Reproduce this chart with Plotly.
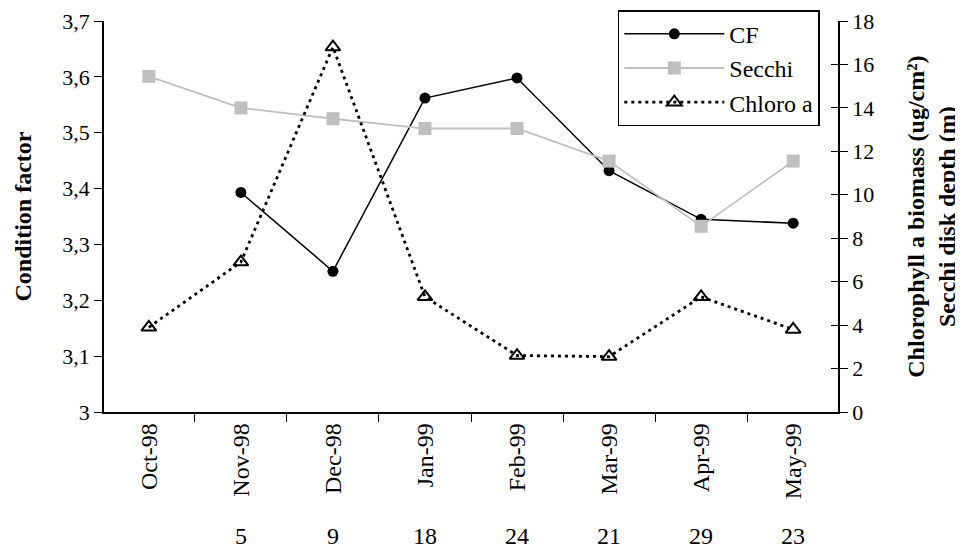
import plotly.graph_objects as go

months = ["Oct-98", "Nov-98", "Dec-98", "Jan-99", "Feb-99", "Mar-99", "Apr-99", "May-99"]
cf = [None, 3.393, 3.252, 3.562, 3.598, 3.432, 3.345, 3.338]
secchi = [15.45, 14.0, 13.5, 13.05, 13.05, 11.55, 8.55, 11.55]
chloro = [3.9, 6.9, 16.8, 5.3, 2.6, 2.55, 5.3, 3.8]
n_labels = ["", "5", "9", "18", "24", "21", "29", "23"]
cf_ticks = [3, 3.1, 3.2, 3.3, 3.4, 3.5, 3.6, 3.7]
cf_ticktext = ["3", "3,1", "3,2", "3,3", "3,4", "3,5", "3,6", "3,7"]

ff = "Liberation Serif, Times New Roman, serif"

fig = go.Figure()
fig.add_trace(go.Scatter(
    x=months, y=cf, name="CF", mode="lines+markers",
    line=dict(color="black", width=1.5),
    marker=dict(symbol="circle", size=11, color="black"),
))
fig.add_trace(go.Scatter(
    x=months, y=secchi, name="Secchi", mode="lines+markers", yaxis="y2",
    line=dict(color="#c0c0c0", width=1.8),
    marker=dict(symbol="square", size=13, color="#c0c0c0"),
))
fig.add_trace(go.Scatter(
    x=months, y=chloro, name="Chloro a", mode="lines+markers", yaxis="y2",
    line=dict(color="black", width=2.8, dash="3px,4px"),
    marker=dict(symbol="triangle-up-open", size=13, color="black", line=dict(width=2)),
))
# invisible helper trace to show inner ticks on the right axis
fig.add_trace(go.Scatter(x=[months[0]], y=[None], yaxis="y3", showlegend=False,
                         hoverinfo="skip"))

for m, t in zip(months, n_labels):
    if t:
        fig.add_annotation(x=m, y=-0.318, xref="x", yref="paper", text=t,
                           showarrow=False, font=dict(size=24, color="black", family=ff),
                           yanchor="middle")

# right-axis title (two lines)
fig.add_annotation(x=1.127, y=0.5, xref="paper", yref="paper",
                   text="<b>Chlorophyll a biomass (ug/cm²)<br>Secchi disk depth (m)</b>",
                   textangle=-90, showarrow=False, xanchor="center", yanchor="middle",
                   font=dict(size=24, color="black", family=ff))

fig.update_layout(
    width=963, height=554,
    margin=dict(l=96, r=133, t=13, b=150, autoexpand=False),
    paper_bgcolor="white", plot_bgcolor="white",
    font=dict(family=ff, size=22, color="black"),
    showlegend=True,
    legend=dict(x=0.843, y=0.996, xref="container", yref="container",
                xanchor="right", yanchor="top",
                bordercolor="black", borderwidth=1.5, bgcolor="white",
                font=dict(size=24, family=ff), itemwidth=100,
                tracegroupgap=0),
    xaxis=dict(type="category", categoryorder="array", categoryarray=months,
               showline=True, linecolor="black", linewidth=1.5,
               ticks="outside", tickson="boundaries", ticklen=8, tickcolor="black",
               tickangle=-90, showgrid=False, zeroline=False,
               tickfont=dict(size=24, family=ff)),
    yaxis=dict(range=[3, 3.7], tickvals=cf_ticks, ticktext=cf_ticktext,
               showline=True, linecolor="black", linewidth=1.5,
               ticks="outside", ticklen=8, tickcolor="black",
               showgrid=False, zeroline=False,
               title=dict(text="<b>Condition factor</b>", font=dict(size=24, family=ff), standoff=24),
               tickfont=dict(size=22, family=ff)),
    yaxis2=dict(range=[0, 18], dtick=2, overlaying="y", side="right",
                showline=True, linecolor="black", linewidth=1.5,
                ticks="outside", ticklen=8, tickcolor="black",
                showgrid=False, zeroline=False,
                tickfont=dict(size=22, family=ff)),
    yaxis3=dict(range=[0, 18], dtick=2, overlaying="y", side="right",
                showline=False, ticks="inside", ticklen=7, tickcolor="black",
                showticklabels=False, showgrid=False, zeroline=False),
)

fig.write_html("out.html")
